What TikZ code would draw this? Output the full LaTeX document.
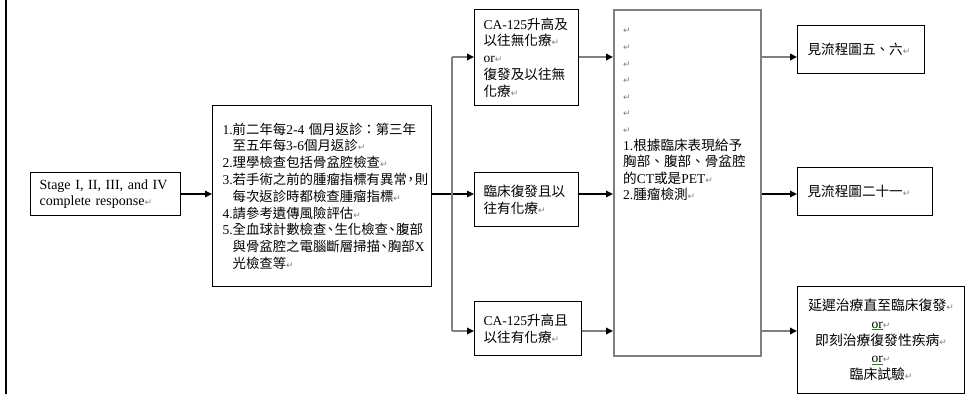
\documentclass[tikz,border=0pt]{standalone}
\usepackage{fontspec}
\setmainfont{Liberation Serif}
\newfontfamily\cjkf{Noto Sans CJK TC}
\newfontfamily\dvf{DejaVu Sans}
\usetikzlibrary{arrows.meta}
\definecolor{lg}{RGB}{128,128,128}
\newcommand\cjksize{13.6}
\newcommand\C[1]{{\cjkf\fontsize{\cjksize}{16.8}\selectfont #1}}
\newcommand\hp[1]{\makebox[8pt][c]{#1}}
\newcommand\retm{{\dvf\fontsize{9}{9}\selectfont\color{lg}↵}}
\newcommand\orx{{\color{green!60!black}\underline{\color{black}or}}}
\begin{document}
\begin{tikzpicture}[x=1pt,y=-1pt,
  box/.style={draw=black,line width=1.2pt,inner ysep=0pt,align=left,anchor=north west,
    font=\fontsize{13.5}{16.8}\selectfont},
  gbox/.style={box,draw=lg,line width=2pt},
  tip/.style={-{Triangle[length=7pt,width=6.5pt,color=black]}},
  blk/.style={draw=black,line width=1.2pt},
  gry/.style={draw=lg,line width=2pt}]
\useasboundingbox (0,0) rectangle (966,394);
\draw[line width=2.3pt] (6,0) -- (6,394);

\node[box,inner xsep=9pt,text width=132pt,minimum height=43pt,font=\fontsize{14}{16.5}\selectfont] (S) at (30,172)
 {Stage I, II, III, and IV\\complete response\retm};

\node[box,inner xsep=10pt,text width=199pt,minimum height=181pt] (M) at (212,105)
 {\renewcommand\cjksize{13.4}%
  1.\C{前二年每}2-4 \C{個月返診：第三年}\\
  \hspace*{10pt}\C{至五年每}3-6\C{個月返診}\retm\\
  2.\C{理學檢查包括骨盆腔檢查}\retm\\
  3.\C{若手術之前的腫瘤指標有異常\hp{，}則}\\
  \hspace*{10pt}\C{每次返診時都檢查腫瘤指標}\retm\\
  4.\C{請參考遺傳風險評估}\retm\\
  5.\C{全血球計數檢查\hp{、}生化檢查\hp{、}腹部}\\
  \hspace*{10pt}\C{與骨盆腔之電腦斷層掃描\hp{、}胸部}X\\
  \hspace*{10pt}\C{光檢查等}\retm};

\node[box,inner xsep=9pt,text width=86pt,minimum height=96pt] (A) at (474,9)
 {CA-125\C{升高及}\\\C{以往無化療}\retm\\or\retm\\\C{復發及以往無}\\\C{化療}\retm};
\node[box,inner xsep=9pt,text width=86pt,minimum height=54pt] (B) at (474,172)
 {\C{臨床復發且以}\\\C{往有化療}\retm};
\node[box,inner xsep=9pt,text width=89pt,minimum height=54pt] (Cb) at (474,301)
 {CA-125\C{升高且}\\\C{以往有化療}\retm};

\node[gbox,minimum width=147pt,minimum height=346pt] (D) at (613,9) {};
\node[anchor=north west,inner sep=0pt,align=left,text width=132pt,
  font=\fontsize{13.5}{16.6}\selectfont] (Dt) at (623,22)
 {\strut\retm\\\retm\\\retm\\\retm\\\retm\\\retm\\\retm\\
  1.\C{根據臨床表現給予}\\\C{胸部、腹部、骨盆腔}\\\C{的}CT\C{或是}PET\retm\\
  2.\C{腫瘤檢測}\retm};

\node[box,inner xsep=10pt,text width=107pt,minimum height=48pt] (E) at (797,25)
 {\C{見流程圖五、六}\retm};
\node[box,inner xsep=10pt,text width=115pt,minimum height=48pt] (F) at (797,167)
 {\C{見流程圖二十一}\retm};
\node[box,align=center,inner xsep=3pt,text width=161pt,minimum height=107pt,
  font=\fontsize{13.5}{17.3}\selectfont] (G) at (797,286)
 {{\cjkf\fontsize{13.8}{17.3}\selectfont 延遲治療直至臨床復發}\retm\\\orx\retm\\
  {\cjkf\fontsize{13.8}{17.3}\selectfont 即刻治療復發性疾病}\retm\\\orx\retm\\
  {\cjkf\fontsize{13.8}{17.3}\selectfont 臨床試驗}\retm};

% junction
\coordinate (jt) at (452,57);
\coordinate (jb) at (452,331);
\coordinate (jm) at (452,194);

\draw[blk,tip] (S.east |- jm) -- (M.west |- jm);
\draw[blk,tip] (M.east |- jm) -- (B.west |- jm);
\draw[gry] (jt) -- (jb);
\draw[gry,tip] (jt) -- (A.west |- jt);
\draw[gry,tip] (jb) -- (Cb.west |- jb);

\draw[gry,tip] (A.east |- jt) -- (D.west |- jt);
\draw[blk,tip] (B.east |- jm) -- (D.west |- jm);
\draw[gry,tip] (Cb.east |- jb) -- (D.west |- jb);

\draw[gry,tip] (D.east |- jt) -- (E.west |- jt);
\draw[blk,tip] (D.east |- jm) -- (F.west |- jm);
\draw[gry,tip] (D.east |- jb) -- (G.west |- jb);
\end{tikzpicture}
\end{document}
